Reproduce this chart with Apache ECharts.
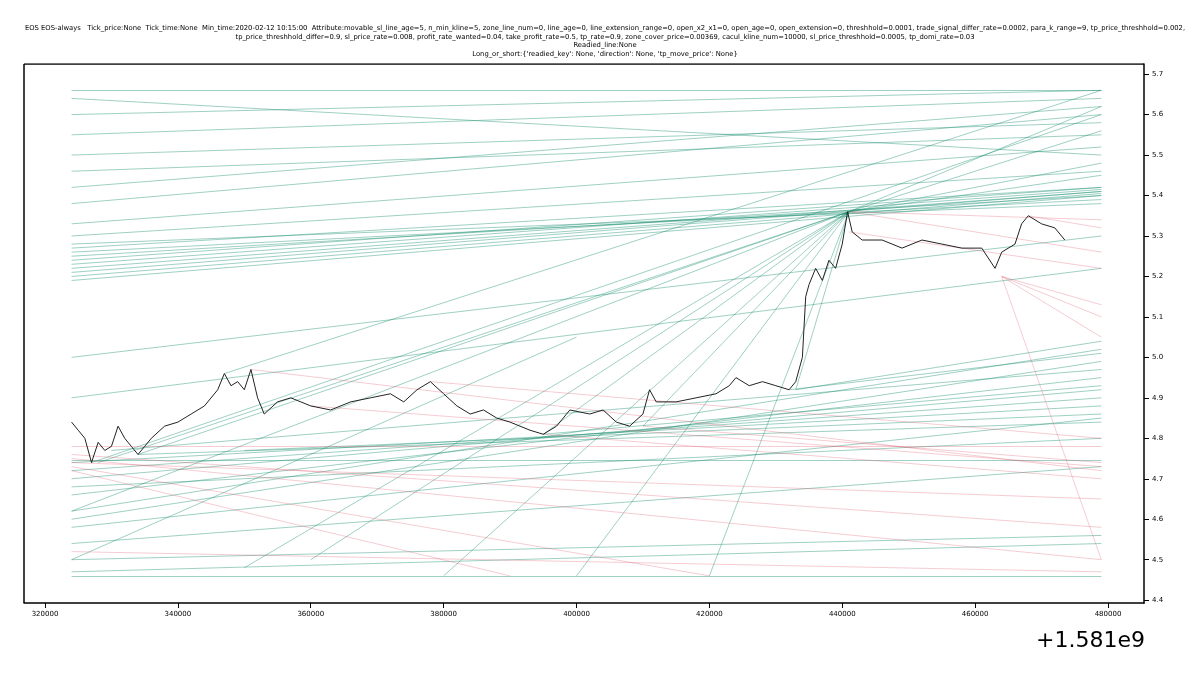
<!DOCTYPE html>
<html><head><meta charset="utf-8">
<script src="https://cdn.jsdelivr.net/npm/echarts@6/dist/echarts.min.js"></script>
<style>html,body{margin:0;background:#fff}#main{width:1200px;height:675px}</style>
</head><body><div id="main"></div>
<script>
// x in seconds minus 1.581e9, y price
var priceX = [324,325,326,327,328,329,330,331,332,333,334,335,336,338,340,342,344,346,347,348,349,350,351,352,353,355,357,360,363,366,369,372,374,376,378,380,382,384,386,388,390,393,395,397,399,402,404,406,408,410,411,412,415,418,421,423,424,426,428,430,432,433,434,434.5,435,436,437,438,439,440,440.8,441.5,443,446,449,452,455,458,461,463,464,466,467,468,470,472,473.5];
var priceY = [4.84,4.82,4.80,4.74,4.79,4.77,4.78,4.83,4.80,4.78,4.76,4.78,4.80,4.83,4.84,4.86,4.88,4.92,4.96,4.93,4.94,4.92,4.97,4.90,4.86,4.89,4.90,4.88,4.87,4.89,4.90,4.91,4.89,4.92,4.94,4.91,4.88,4.86,4.87,4.85,4.84,4.82,4.81,4.83,4.87,4.86,4.87,4.84,4.83,4.86,4.92,4.89,4.89,4.90,4.91,4.93,4.95,4.93,4.94,4.93,4.92,4.94,5.00,5.15,5.18,5.22,5.19,5.24,5.22,5.28,5.36,5.31,5.29,5.29,5.27,5.29,5.28,5.27,5.27,5.22,5.26,5.28,5.33,5.35,5.33,5.32,5.29];

var greenLines = [
 [324,5.19,479,5.40],[324,5.20,479,5.405],[324,5.21,479,5.41],[324,5.22,479,5.41],[324,5.23,479,5.415],
 [324,5.24,479,5.42],[324,5.25,479,5.40],[324,5.26,479,5.39],[324,5.27,479,5.42],[324,5.28,479,5.38],
 [324,5.30,479,5.46],[324,5.33,479,5.52],[324,5.38,479,5.60],[324,5.42,479,5.62],[324,5.46,479,5.55],
 [324,5.50,479,5.58],[324,5.55,479,5.64],[324,5.60,479,5.66],[324,5.64,479,5.50],[324,5.66,479,5.66],
 [324,4.745,479,4.745],[324,4.74,479,4.88],[324,4.70,479,4.92],[324,4.66,479,4.95],[324,4.62,479,5.02],
 [324,4.58,479,4.85],[324,4.54,479,4.73],[324,4.50,479,4.56],[324,4.47,479,4.54],[324,4.46,479,4.46],
 [324,4.60,479,4.99],[324,4.68,479,4.80],[324,4.72,479,4.90],[334,4.76,479,4.84],[350,4.77,479,4.86],
 [395,4.81,479,4.93],[330,4.77,479,4.97],[432,4.92,479,5.01],[433,4.92,479,5.04],
 [328,4.74,441,5.36],[334,4.76,441,5.36],[360,4.50,441,5.36],[380,4.46,441,5.36],[400,4.46,441,5.36],
 [420,4.46,441,5.36],[433,4.92,441,5.36],[395,4.81,441,5.36],[410,4.83,441,5.36],[350,4.48,441,5.36],
 [441,5.36,479,5.62],[441,5.36,479,5.56],[441,5.36,479,5.48],[441,5.36,479,5.45],[324,4.62,441,5.36],
 [324,4.50,400,5.05],[324,4.90,479,5.22],[324,5.00,479,5.30],[347,4.96,479,5.66],[327,4.74,479,5.60]
];
var redLines = [
 [324,4.75,479,4.50],[324,4.76,479,4.58],[324,4.74,479,4.65],[324,4.73,420,4.46],[324,4.72,390,4.46],
 [351,4.97,479,4.72],[378,4.94,479,4.80],[395,4.81,479,4.70],[464,5.20,479,5.05],[464,5.20,479,5.10],
 [464,5.20,479,5.13],[464,5.20,479,4.50],[441,5.36,479,5.26],[441,5.31,479,5.22],[468,5.35,479,5.32],
 [324,4.78,479,4.78],[410,4.83,479,4.74],[441,5.36,479,5.34],[324,4.52,479,4.47],[360,4.88,479,4.73]
];
var xTicks = [320000,340000,360000,380000,400000,420000,440000,460000,480000];
var yTicks = [4.4,4.5,4.6,4.7,4.8,4.9,5.0,5.1,5.2,5.3,5.4,5.5,5.6,5.7];

function toLines(arr){
  return arr.map(function(l){ return {coords:[[l[0]*1000,l[1]],[l[2]*1000,l[3]]]}; });
}
var price = priceX.map(function(x,i){ return [x*1000, priceY[i]]; });

var title = "EOS EOS-always   Tick_price:None  Tick_time:None  Min_time:2020-02-12 10:15:00  Attribute:movable_sl_line_age=5, n_min_kline=5, zone_line_num=0, line_age=0, line_extension_range=0, open_x2_x1=0, open_age=0, open_extension=0, threshhold=0.0001, trade_signal_differ_rate=0.0002, para_k_range=9, tp_price_threshhold=0.002,\ntp_price_threshhold_differ=0.9, sl_price_rate=0.008, profit_rate_wanted=0.04, take_profit_rate=0.5, tp_rate=0.9, zone_cover_price=0.00369, cacul_kline_num=10000, sl_price_threshhold=0.0005, tp_domi_rate=0.03\nReadied_line:None\nLong_or_short:{'readied_key': None, 'direction': None, 'tp_move_price': None}";

var myChart = echarts.init(document.getElementById('main'));
myChart.setOption({
  animation:false,
  title:[
    {text:title,left:600,top:19,textAlign:'center',textStyle:{fontSize:6.8,fontWeight:'normal',color:'#000',fontFamily:'DejaVu Sans',lineHeight:8.5,align:'center'}},
    {text:'+1.581e9',right:50,top:625,textStyle:{fontSize:22,fontWeight:'normal',color:'#000',fontFamily:'DejaVu Sans'}}
  ],
  grid:{left:24,right:56,top:64,bottom:72},
  xAxis:{type:'value',min:316840,max:485420,interval:20000,
    axisLine:{onZero:false,lineStyle:{color:'#000',width:1.5}},
    axisTick:{customValues:xTicks,lineStyle:{color:'#000'}},
    axisLabel:{customValues:xTicks,fontSize:7,color:'#000',fontFamily:'DejaVu Sans',formatter:function(v){return String(v);}},
    splitLine:{show:false}},
  yAxis:{type:'value',position:'right',min:4.393,max:5.725,
    axisLine:{show:true,lineStyle:{color:'#000',width:1.5}},
    axisTick:{show:true,customValues:yTicks,lineStyle:{color:'#000'}},
    axisLabel:{customValues:yTicks,fontSize:7,color:'#000',fontFamily:'DejaVu Sans',formatter:function(v){return v.toFixed(1);}},
    splitLine:{show:false}},
  series:[
    {type:'lines',coordinateSystem:'cartesian2d',data:toLines(greenLines),lineStyle:{color:'#0f8a6a',width:1,opacity:0.4},silent:true},
    {type:'lines',coordinateSystem:'cartesian2d',data:toLines(redLines),lineStyle:{color:'#d9475a',width:0.8,opacity:0.35},silent:true},
    {type:'line',data:price,showSymbol:false,lineStyle:{color:'#222',width:1}},
    {type:'line',data:[[316840,5.725],[485420,5.725]],showSymbol:false,lineStyle:{color:'#000',width:1.5},silent:true},
    {type:'line',data:[[316840,4.393],[316840,5.725]],showSymbol:false,lineStyle:{color:'#000',width:1.5},silent:true}
  ]
});
</script></body></html>
